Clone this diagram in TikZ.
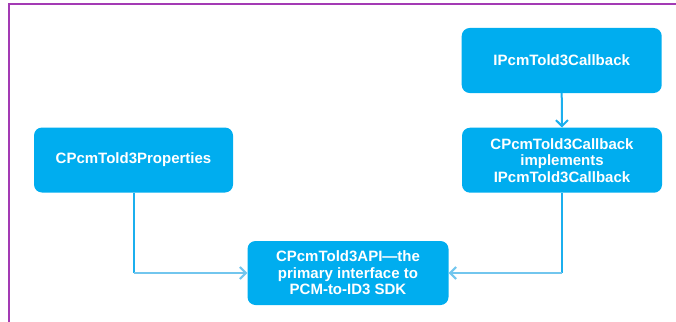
\documentclass[tikz,border=0pt]{standalone}
\usepackage{fontspec}
\setmainfont{Liberation Sans}
\usetikzlibrary{arrows.meta}

\definecolor{boxblue}{HTML}{00ADEF}
\definecolor{linkdark}{HTML}{1BAFEE}
\definecolor{linklight}{HTML}{72C6EE}
\definecolor{framepurple}{HTML}{A33AB4}

\begin{document}
\begin{tikzpicture}[x=1pt,y=-1pt,
  box/.style={fill=boxblue, rounded corners=8pt, text=white,
    font=\fontsize{15}{16.5}\selectfont\bfseries, align=center,
    minimum width=200pt, minimum height=65pt, inner sep=0pt},
  tipbarb/.style={-{Straight Barb[length=6pt,width=12pt,line width=2pt]}},
  linkv/.style={draw=linkdark, line width=2pt},
  linkh/.style={draw=linklight, line width=2pt},
  frameline/.style={draw=framepurple, line width=2pt}]
\useasboundingbox (0,0) rectangle (676,321);

% outer frame (top and left edges)
\draw[frameline] (9,322) -- (9,4) -- (677,4);

% boxes
\node[box] (cb)    at (561.7,60.5)  {IPcmTold3Callback};
\node[box] (impl)  at (562,160.2)   {CPcmTold3Callback\\implements\\IPcmTold3Callback};
\node[box, minimum width=199pt] (props) at (133.5,160) {CPcmTold3Properties};
\node[box, minimum width=201pt, minimum height=64pt] (api) at (348,273) {CPcmTold3API\textemdash the\\primary interface to\\PCM-to-ID3 SDK};

% interface to implementation
\draw[linkv, tipbarb] (cb.south) -- (impl.north);

% properties into API
\coordinate (pbend) at (props.south |- api.west);
\draw[linkv] (props.south) -- (pbend);
\draw[linkh, tipbarb] (pbend) -- (api.west);

% callback implementation into API
\coordinate (cbend) at (impl.south |- api.east);
\draw[linkv] (impl.south) -- (cbend);
\draw[linkh, tipbarb] (cbend) -- (api.east);
\end{tikzpicture}
\end{document}
